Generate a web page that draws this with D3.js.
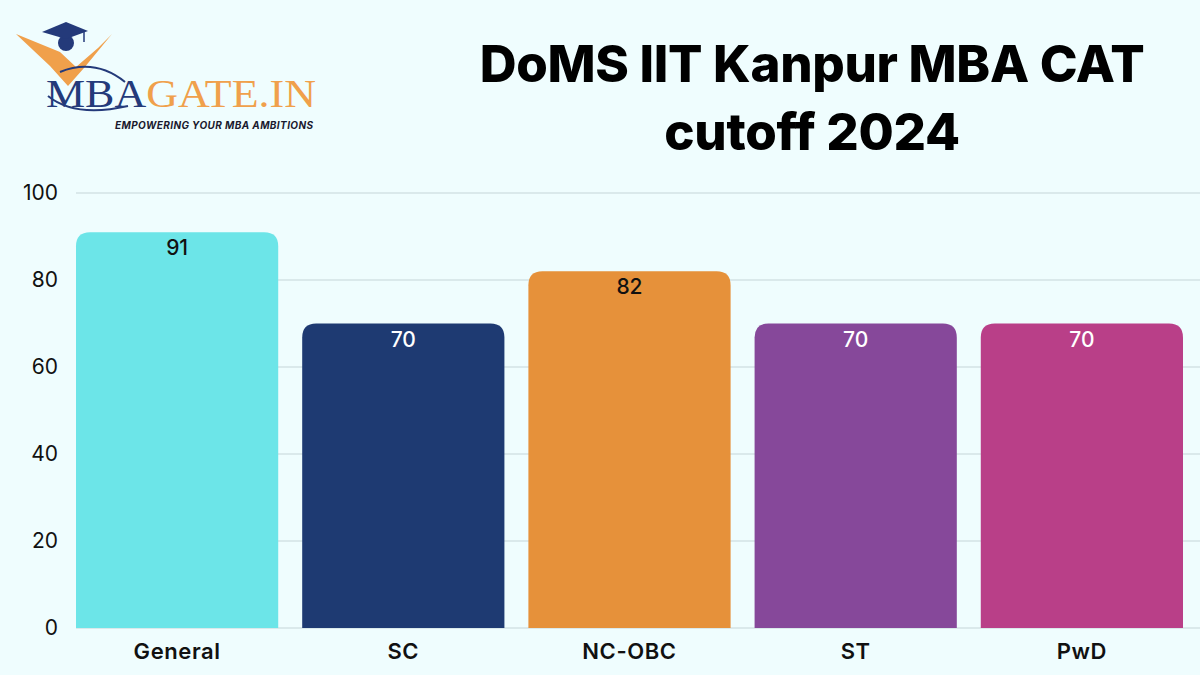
<!DOCTYPE html>
<html><head><meta charset="utf-8">
<script src="https://cdn.jsdelivr.net/npm/d3@7"></script>
<style>html,body{margin:0;padding:0;background:#effdfe;}svg{display:block;}</style>
</head><body>
<svg id="chart" width="1200" height="675"></svg>
<script>
const categories = ["General", "SC", "NC-OBC", "ST", "PwD"];
const values = [91, 70, 82, 70, 70];
const barColors = ["#6ce5e8", "#1e3a72", "#e6913a", "#86489a", "#b93f88"];
const labelColors = ["#111111", "#ffffff", "#111111", "#ffffff", "#ffffff"];
const yTicks = [0, 20, 40, 60, 80, 100];
const titleLines = ["DoMS IIT Kanpur MBA CAT", "cutoff 2024"];

const svg = d3.select("#chart");
svg.append("rect").attr("width",1200).attr("height",675).attr("fill","#effdfe");

const x = d3.scaleBand().domain(categories).range([76,1183]).paddingInner(0.106).paddingOuter(0);
const y = d3.scaleLinear().domain([0,100]).range([628,193]);

// gridlines
svg.append("g").selectAll("line").data(yTicks).join("line")
  .attr("x1",76).attr("x2",1200)
  .attr("y1",d=>y(d)).attr("y2",d=>y(d))
  .attr("stroke","#d3e2e5").attr("stroke-width",1.5);

// y axis labels
const yAxis = d3.axisLeft(y).tickValues(yTicks).tickSize(0).tickPadding(0);
const yg = svg.append("g").attr("transform","translate(58,0)").call(yAxis);
yg.select(".domain").remove();
yg.selectAll("text").attr("font-family","Inter, 'Noto Sans', sans-serif")
  .attr("font-size",21).attr("fill","#111").attr("font-weight",400).attr("dy","0.32em");

// bars with rounded tops
const r = 14;
function barPath(d,i){
  const x0 = x(categories[i]), w = x.bandwidth(), y0 = y(d), yb = y(0);
  return `M${x0},${yb} L${x0},${y0+r} Q${x0},${y0} ${x0+r},${y0} L${x0+w-r},${y0} Q${x0+w},${y0} ${x0+w},${y0+r} L${x0+w},${yb} Z`;
}
svg.append("g").selectAll("path").data(values).join("path")
  .attr("d",(d,i)=>barPath(d,i)).attr("fill",(d,i)=>barColors[i]);

// value labels
svg.append("g").selectAll("text").data(values).join("text")
  .attr("x",(d,i)=>x(categories[i])+x.bandwidth()/2)
  .attr("y",d=>y(d)+23)
  .attr("text-anchor","middle")
  .attr("font-family","Inter, 'Noto Sans', sans-serif").attr("font-size",21).attr("font-weight",500)
  .attr("fill",(d,i)=>labelColors[i]).text(d=>d);

// x axis labels
const xAxis = d3.axisBottom(x).tickSize(0).tickPadding(0);
const xg = svg.append("g").attr("transform","translate(0,643)").call(xAxis);
xg.select(".domain").remove();
xg.selectAll("text").attr("font-family","Inter, 'Noto Sans', sans-serif")
  .attr("font-size",22).attr("font-weight",600).attr("fill","#111").attr("dy","0.71em")
  .attr("letter-spacing",0.6);

// title
svg.append("g").selectAll("text").data(titleLines).join("text")
  .attr("x",812).attr("y",(d,i)=>82+i*68)
  .attr("text-anchor","middle")
  .attr("font-family","Inter, 'Open Sans', sans-serif").attr("font-size",51).attr("font-weight",800)
  .attr("fill","#000").attr("letter-spacing",-0.3).text(d=>d);

// logo
const logo = svg.append("g");
logo.append("path").attr("d","M16,34 L60,52 L76,67 L98,48 L112,34 L84,68 L68,86 L50,66 Z").attr("fill","#f0a04b");
logo.append("circle").attr("cx",66).attr("cy",43).attr("r",8).attr("fill","#243a7a");
logo.append("path").attr("d","M42,32 L66,22 L88,31 L66,39 Z").attr("fill","#243a7a");
logo.append("line").attr("x1",84).attr("y1",32).attr("x2",84).attr("y2",42).attr("stroke","#243a7a").attr("stroke-width",1.5);
logo.append("path").attr("d","M60,72 Q95,58 125,82").attr("fill","none").attr("stroke","#243a7a").attr("stroke-width",2);
logo.append("path").attr("d","M48,96 Q75,118 128,106").attr("fill","none").attr("stroke","#243a7a").attr("stroke-width",2);
const brand = logo.append("text").attr("x",46).attr("y",107)
  .attr("font-family","'Liberation Serif', 'DejaVu Serif', serif").attr("font-size",40)
  .attr("textLength",270).attr("lengthAdjust","spacingAndGlyphs");
brand.append("tspan").attr("fill","#243a7a").text("MBA");
brand.append("tspan").attr("fill","#f0a04b").text("GATE.IN");
logo.append("text").attr("x",115).attr("y",129).attr("font-family","Inter, sans-serif")
  .attr("font-size",10).attr("font-weight",700).attr("font-style","italic").attr("fill","#1a1a2e")
  .attr("textLength",198).text("EMPOWERING YOUR MBA AMBITIONS");
</script>
</body></html>
